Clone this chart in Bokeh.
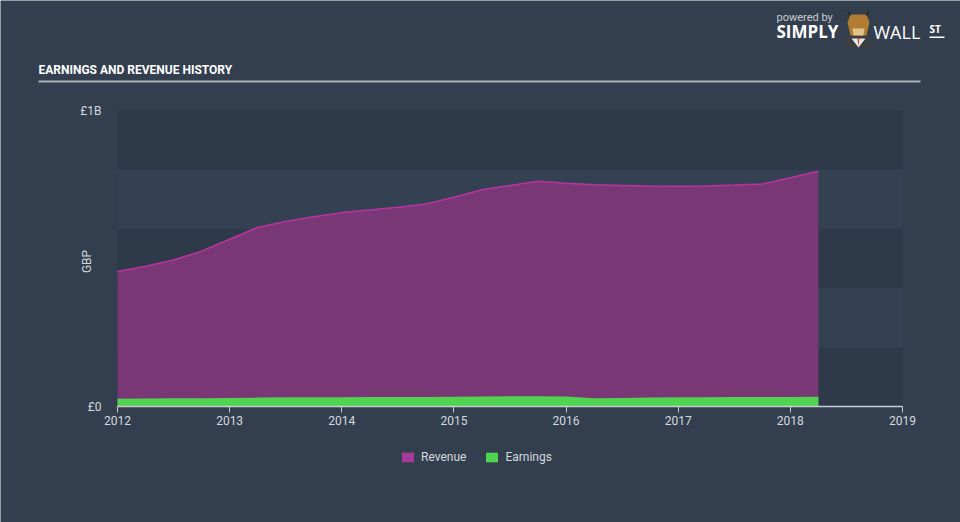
import math
from bokeh.plotting import figure
from bokeh.models import (FixedTicker, BoxAnnotation, PolyAnnotation, Label,
                          Legend, LegendItem)
from bokeh.embed import file_html
from bokeh.resources import INLINE

# ---- data (GBP) ----
years = [2012.00, 2012.25, 2012.50, 2012.75, 2013.00, 2013.25, 2013.50, 2013.75,
         2014.00, 2014.25, 2014.50, 2014.75, 2015.00, 2015.25, 2015.50, 2015.75,
         2016.00, 2016.25, 2016.50, 2016.75, 2017.00, 2017.25, 2017.50, 2017.75,
         2018.00, 2018.25]
revenue = [0.456, 0.474, 0.495, 0.525, 0.565, 0.605, 0.625, 0.641,
           0.655, 0.664, 0.673, 0.684, 0.707, 0.732, 0.747, 0.761,
           0.754, 0.749, 0.747, 0.745, 0.744, 0.745, 0.748, 0.752,
           0.773, 0.795]
earnings = [0.026, 0.027, 0.028, 0.028, 0.029, 0.030, 0.031, 0.031,
            0.031, 0.032, 0.032, 0.032, 0.033, 0.034, 0.035, 0.035,
            0.034, 0.028, 0.029, 0.030, 0.031, 0.031, 0.032, 0.032,
            0.032, 0.033]
revenue = [v * 1e9 for v in revenue]
earnings = [v * 1e9 for v in earnings]
x_ticks = [2012, 2013, 2014, 2015, 2016, 2017, 2018, 2019]
y_ticks = [0, 1e9]
y_tick_labels = {0: "£0", 1000000000: "£1B"}
band_edges = [0, 0.2e9, 0.4e9, 0.6e9, 0.8e9, 1.0e9]
series_names = ["Revenue", "Earnings"]
title_text = "EARNINGS AND REVENUE HISTORY"

BG = "#333f4f"
BAND_DARK = "#2e3a4a"
BAND_LIGHT = "#344152"
REV_FILL = "#7a3775"
REV_LINE = "#b8359f"
REV_KEY = "#a6399b"
EARN_FILL = "#50d450"
FONT = "Roboto"
TXT = "#d5d9de"

# ---- layout (pixels on the 960x522 canvas) ----
W, H = 960, 522
PLOT_L, PLOT_R, PLOT_T, PLOT_B = 117, 902, 110, 406
xmin, xmax = x_ticks[0], x_ticks[-1]
ymin, ymax = y_ticks[0], y_ticks[-1]
xpp = (xmax - xmin) / (PLOT_R - PLOT_L)      # data units per pixel
ypp = (ymax - ymin) / (PLOT_B - PLOT_T)
x_range = (xmin - PLOT_L * xpp, xmax + (W - PLOT_R) * xpp)
y_range = (ymin - (H - PLOT_B) * ypp, ymax + PLOT_T * ypp)

p = figure(width=W, height=H, frame_width=W, frame_height=H,
           x_range=x_range, y_range=y_range,
           output_backend="svg", toolbar_location=None,
           min_border=0, min_border_left=0, min_border_right=0,
           min_border_top=0, min_border_bottom=0)
p.background_fill_color = BG
p.border_fill_color = BG
p.outline_line_color = None
p.grid.visible = False

# plot-area bands
for i in range(len(band_edges) - 1):
    p.add_layout(BoxAnnotation(left=xmin, right=xmax,
                               bottom=band_edges[i], top=band_edges[i + 1],
                               fill_color=BAND_DARK if i % 2 == 0 else BAND_LIGHT,
                               fill_alpha=1.0, line_color=None, level="underlay"))

p.varea(x=years, y1=0, y2=revenue, fill_color=REV_FILL, fill_alpha=1.0)
p.line(x=years, y=revenue, line_color=REV_LINE, line_width=1.5)
p.varea(x=years, y1=0, y2=earnings, fill_color=EARN_FILL, fill_alpha=1.0)

# legend-key proxies: zero-area shapes that only give the swatch colours
rev_key = p.varea(x=[xmin, xmin], y1=[ymin, ymin], y2=[ymin, ymin],
                  fill_color=REV_KEY, fill_alpha=1.0)
earn_key = p.varea(x=[xmin, xmin], y1=[ymin, ymin], y2=[ymin, ymin],
                   fill_color=EARN_FILL, fill_alpha=1.0)

# axes (fixed inside the full-canvas frame)
xa = p.xaxis[0]
xa.fixed_location = 0
xa.bounds = (xmin, xmax)
xa.ticker = FixedTicker(ticks=x_ticks)
xa.axis_line_color = "#c8ccd2"
xa.axis_line_width = 1.5
xa.major_tick_line_color = "#c8ccd2"
xa.major_tick_out = 6
xa.major_tick_in = 0
xa.minor_tick_line_color = None
xa.major_label_text_color = TXT
xa.major_label_text_font = FONT
xa.major_label_text_font_size = "12px"
xa.major_label_standoff = 3

ya = p.yaxis[0]
ya.fixed_location = xmin
ya.ticker = FixedTicker(ticks=y_ticks)
ya.major_label_overrides = y_tick_labels
ya.axis_line_color = None
ya.major_tick_line_color = None
ya.minor_tick_line_color = None
ya.major_label_text_color = TXT
ya.major_label_text_font = FONT
ya.major_label_text_font_size = "12px"
ya.major_label_standoff = 10
ya.axis_label = "GBP"
ya.axis_label_text_color = TXT
ya.axis_label_text_font = FONT
ya.axis_label_text_font_style = "normal"
ya.axis_label_text_font_size = "12px"
ya.axis_label_standoff = -17

legend = Legend(items=[LegendItem(label=series_names[0], renderers=[rev_key]),
                       LegendItem(label=series_names[1], renderers=[earn_key])],
                orientation="horizontal", location=(400, H - 464),
                background_fill_alpha=0, border_line_color=None,
                label_text_color=TXT, label_text_font=FONT,
                label_text_font_size="12px", glyph_width=15, glyph_height=12,
                label_standoff=6, spacing=18, padding=0, margin=0)
p.add_layout(legend, "center")

def lab(cx, cy, text, **kw):
    p.add_layout(Label(x=cx, y=H - cy, x_units="screen", y_units="screen",
                       text=text, text_baseline="alphabetic", **kw))

def box(l, r, t, b, color):
    p.add_layout(BoxAnnotation(left=l, right=r, top=H - t, bottom=H - b,
                               left_units="screen", right_units="screen",
                               top_units="screen", bottom_units="screen",
                               fill_color=color, fill_alpha=1.0, line_color=None))

def poly(pts, color):
    p.add_layout(PolyAnnotation(xs=[q[0] for q in pts], ys=[H - q[1] for q in pts],
                                xs_units="screen", ys_units="screen",
                                fill_color=color, fill_alpha=1.0, line_color=None))

# title + rule
lab(38, 69, title_text, text_color="#ffffff", text_font=FONT,
    text_font_style="bold", text_font_size="12px")
box(38, 920, 80, 82, "#aab0b8")

# branding
lab(776, 17, "powered by", text_color="#c8ccd2", text_font=FONT, text_font_size="11px")
lab(776, 31, "SIMPLY", text_color="#ffffff", text_font="Open Sans",
    text_font_style="bold", text_font_size="17px")
lab(873, 31, "WALL", text_color="#ffffff", text_font="Open Sans", text_font_size="18px")
lab(929, 28, "ST", text_color="#ffffff", text_font="Open Sans",
    text_font_style="bold", text_font_size="10px")
box(929, 944, 36, 37.5, "#ffffff")

poly([(845, 48), (845, 38), (851, 33), (865, 33), (871, 38), (871, 48)], "#3a3d42")
poly([(851, 38), (858, 47), (865, 38)], "#e8e8e8")
poly([(857, 38), (859, 38), (858, 46)], "#d0452a")
poly([(850, 14), (866, 14), (869, 22), (866, 35), (850, 35), (847, 22)], "#b27b34")
poly([(852, 28), (864, 28), (863, 35), (853, 35)], "#e2c48a")
poly([(849, 16), (846, 8), (851, 14)], "#2b2b2b")
poly([(867, 16), (870, 8), (865, 14)], "#2b2b2b")

open("out.html", "w").write(file_html(p, INLINE))
